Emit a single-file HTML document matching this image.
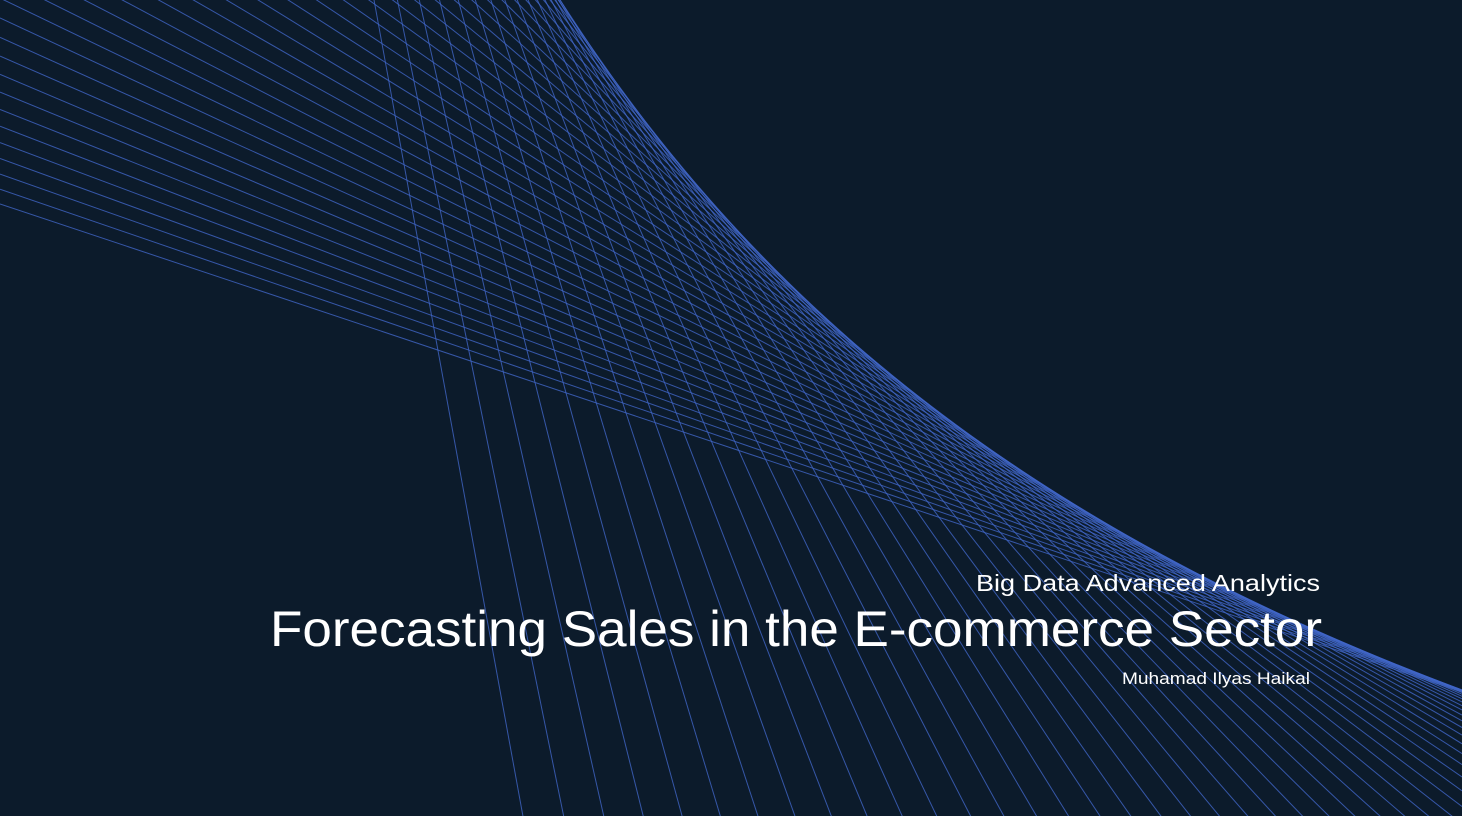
<!DOCTYPE html>
<html><head><meta charset="utf-8"><style>
html,body{margin:0;padding:0;background:#0c1b2b;width:1462px;height:816px;overflow:hidden;}
svg{display:block;}
</style></head><body>
<svg id="slide" width="1462" height="816" viewBox="0 0 1462 816" xmlns="http://www.w3.org/2000/svg" style="overflow:hidden">
<rect x="0" y="0" width="1462" height="816" fill="#0c1b2b"/>
<g id="lines"></g>
<text x="1320" y="591" text-anchor="end" font-family="Liberation Sans, sans-serif" font-size="23" fill="#ffffff" textLength="344" lengthAdjust="spacingAndGlyphs">Big Data Advanced Analytics</text>
<text x="270" y="646" font-family="Liberation Sans, sans-serif" font-size="50" fill="#ffffff" textLength="1052" lengthAdjust="spacingAndGlyphs">Forecasting Sales in the E-commerce Sector</text>
<text x="1310" y="684" text-anchor="end" font-family="Liberation Sans, sans-serif" font-size="17" fill="#ffffff" textLength="188" lengthAdjust="spacingAndGlyphs">Muhamad Ilyas Haikal</text>
</svg>
<script>
var tangentXs = [];
for (var x = 160; x <= 1580; x += 26) tangentXs.push(x);
var envA = 1348, envK = 1159600, envX0 = -300;
var g = document.getElementById('lines');
var ns = 'http://www.w3.org/2000/svg';
tangentXs.forEach(function (xt) {
  var yt = envA - envK / (xt - envX0);
  var m = envK / Math.pow(xt - envX0, 2);
  var x1 = 0, y1 = yt + m * (x1 - xt);
  var x2 = 1462, y2 = yt + m * (x2 - xt);
  var l = document.createElementNS(ns, 'line');
  
  
  l.setAttribute('x1', x1); l.setAttribute('y1', y1);
  l.setAttribute('x2', x2); l.setAttribute('y2', y2);
  l.setAttribute('stroke', '#4167c8');
  l.setAttribute('stroke-width', '1');
  l.setAttribute('stroke-opacity', '0.8');
  g.appendChild(l);
});
</script>
</body></html>
